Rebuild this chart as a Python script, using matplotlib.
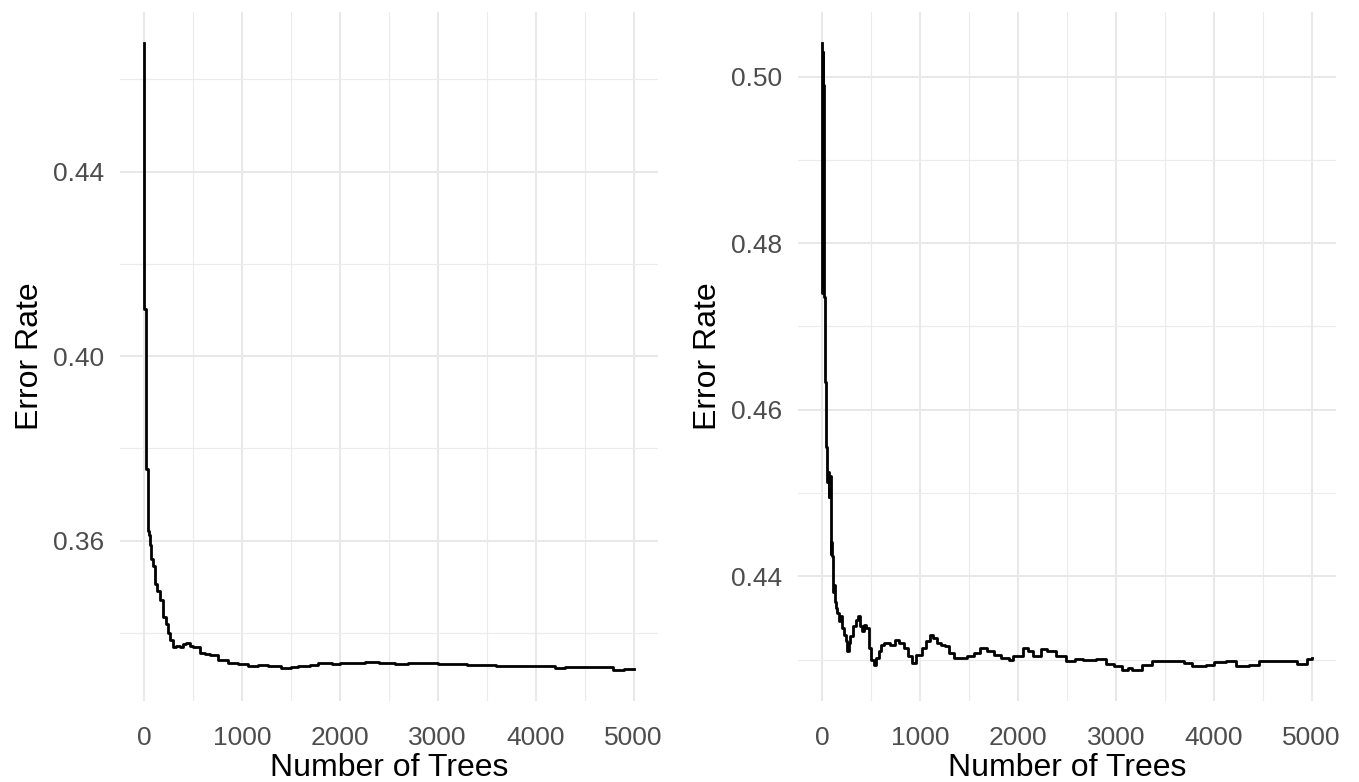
import matplotlib
matplotlib.use("Agg")
import matplotlib.pyplot as plt
from matplotlib.ticker import MultipleLocator

# left panel: OOB error vs number of trees
left_trees = [1, 3, 22, 25, 40, 45, 55, 60, 75, 90, 110, 135, 160, 194, 220,
              245, 270, 296, 330, 364, 400, 432, 470, 500, 568, 620, 670, 755,
              857, 959, 1061, 1163, 1265, 1401, 1500, 1571, 1700, 1776, 1925,
              2000, 2150, 2255, 2400, 2561, 2700, 2867, 3000, 3173, 3300, 3446,
              3600, 3786, 4000, 4194, 4300, 4466, 4600, 4786, 4900, 5000]
left_err = [0.4678, 0.4102, 0.4092, 0.3754, 0.3745, 0.3620, 0.3612, 0.3590,
            0.3560, 0.3545, 0.3506, 0.3490, 0.3470, 0.3434, 0.3418, 0.3399,
            0.3384, 0.3370, 0.3371, 0.3370, 0.3376, 0.3377, 0.3372, 0.3370,
            0.3356, 0.3355, 0.3352, 0.3341, 0.3334, 0.3333, 0.3327, 0.3331,
            0.3327, 0.3324, 0.3325, 0.3327, 0.3331, 0.3334, 0.3333, 0.3334,
            0.3335, 0.3336, 0.3334, 0.3332, 0.3334, 0.3334, 0.3333, 0.3332,
            0.3331, 0.3330, 0.3329, 0.3328, 0.3328, 0.3324, 0.3326, 0.3325,
            0.3325, 0.3320, 0.3321, 0.3322]

# right panel
right_trees = [1, 3, 5, 7, 9, 11, 13, 15, 17, 19, 21, 24, 30, 34, 40, 44, 48,
               55, 62, 68, 75, 82, 88, 92, 95, 100, 112, 125, 136, 145, 153,
               170, 185, 204, 225, 240, 255, 270, 289, 320, 345, 364, 385, 408,
               430, 452, 476, 500, 527, 550, 578, 600, 629, 690, 748, 790, 833,
               875, 918, 960, 1020, 1060, 1099, 1130, 1173, 1215, 1259, 1300,
               1344, 1410, 1480, 1550, 1616, 1680, 1752, 1830, 1905, 1950, 2051,
               2100, 2153, 2238, 2300, 2391, 2493, 2580, 2663, 2799, 2901, 2980,
               3068, 3120, 3170, 3272, 3374, 3500, 3612, 3700, 3782, 3918, 4000,
               4122, 4224, 4360, 4462, 4600, 4734, 4853, 4956, 5000]
right_err = [0.5040, 0.4740, 0.5030, 0.4760, 0.5020, 0.4790, 0.4990, 0.4750,
             0.4960, 0.4736, 0.4800, 0.4735, 0.4690, 0.4633, 0.4600, 0.4555,
             0.4530, 0.4513, 0.4525, 0.4495, 0.4510, 0.4520, 0.4470, 0.4427,
             0.4441, 0.4425, 0.4381, 0.4390, 0.4369, 0.4362, 0.4356, 0.4346,
             0.4352, 0.4338, 0.4330, 0.4322, 0.4310, 0.4320, 0.4328, 0.4340,
             0.4348, 0.4352, 0.4340, 0.4334, 0.4342, 0.4338, 0.4314, 0.4300,
             0.4294, 0.4302, 0.4310, 0.4318, 0.4320, 0.4318, 0.4324, 0.4320,
             0.4314, 0.4305, 0.4296, 0.4306, 0.4314, 0.4322, 0.4330, 0.4326,
             0.4320, 0.4318, 0.4316, 0.4308, 0.4302, 0.4302, 0.4304, 0.4308,
             0.4314, 0.4310, 0.4306, 0.4302, 0.4300, 0.4304, 0.4314, 0.4310,
             0.4305, 0.4313, 0.4310, 0.4305, 0.4299, 0.4301, 0.4300, 0.4301,
             0.4295, 0.4292, 0.4288, 0.4290, 0.4288, 0.4294, 0.4298, 0.4298,
             0.4299, 0.4296, 0.4293, 0.4294, 0.4297, 0.4299, 0.4293, 0.4294,
             0.4299, 0.4298, 0.4299, 0.4295, 0.4301, 0.4302]

plt.rcParams["font.family"] = ["Liberation Sans Narrow", "Liberation Sans", "DejaVu Sans"]

fig = plt.figure(figsize=(13.59, 7.82), dpi=100)
fig.patch.set_facecolor("white")

ax1 = fig.add_axes([0.0880, 0.1036, 0.3962, 0.8811])
ax2 = fig.add_axes([0.5870, 0.1036, 0.3961, 0.8811])


def style_panel(ax, ymajor, yminor):
    ax.xaxis.set_major_locator(MultipleLocator(1000))
    ax.xaxis.set_minor_locator(MultipleLocator(500))
    ax.yaxis.set_major_locator(MultipleLocator(ymajor))
    ax.yaxis.set_minor_locator(MultipleLocator(yminor))
    ax.grid(True, which="major", color="#E8E8E8", lw=1.4)
    ax.grid(True, which="minor", color="#EBEBEB", lw=0.8)
    ax.set_axisbelow(True)
    for s in ax.spines.values():
        s.set_visible(False)
    ax.tick_params(which="both", length=0, labelsize=19, colors="#4D4D4D")
    ax.tick_params(axis="x", pad=18)
    ax.tick_params(axis="y", pad=11)
    ax.set_xlabel("Number of Trees", fontsize=23, color="black", labelpad=2)
    ax.set_ylabel("Error Rate", fontsize=23, color="black", labelpad=6)


ax1.plot(left_trees, left_err, color="black", lw=2.0, drawstyle="steps-post")
style_panel(ax1, 0.04, 0.02)
ax1.yaxis.set_major_formatter(lambda v, p: "%.2f" % v)

ax2.plot(right_trees, right_err, color="black", lw=2.0, drawstyle="steps-post")
style_panel(ax2, 0.02, 0.01)
ax2.yaxis.set_major_formatter(lambda v, p: "%.2f" % v)

fig.savefig("out.png", dpi=100, facecolor="white")
